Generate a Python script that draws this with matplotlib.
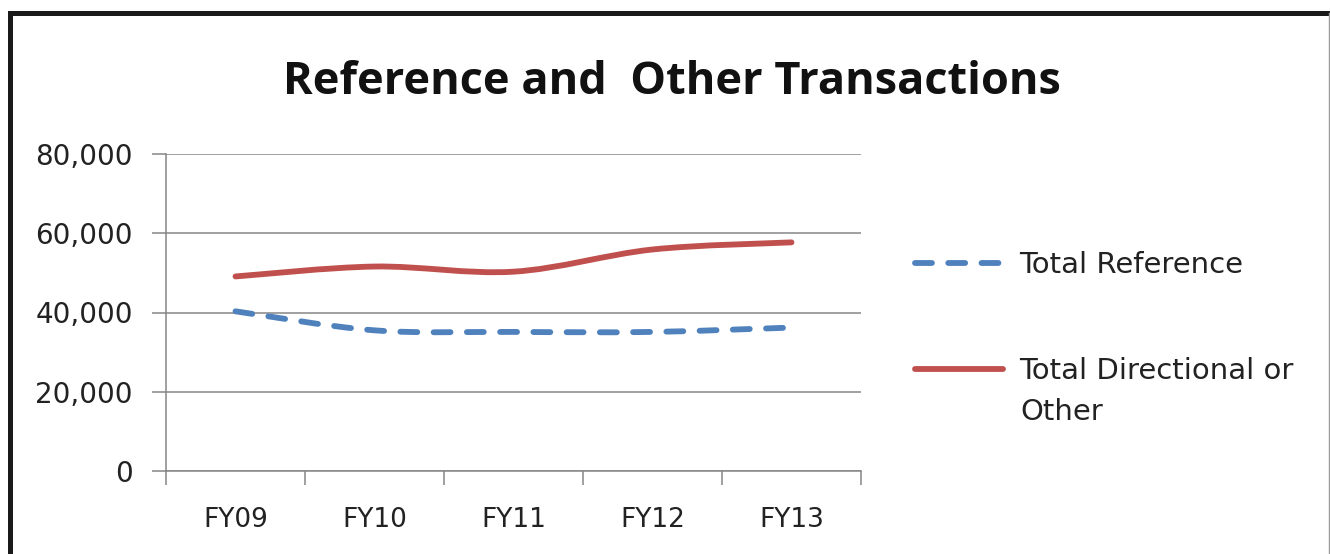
import numpy as np
import matplotlib
matplotlib.use("Agg")
import matplotlib.pyplot as plt
from matplotlib.path import Path
from matplotlib.patches import PathPatch
from matplotlib.lines import Line2D

# === Data ===
years = ["FY09", "FY10", "FY11", "FY12", "FY13"]
total_reference = [40300, 35500, 35100, 35100, 36200]
total_directional = [49100, 51600, 50300, 55900, 57700]
y_ticks = [0, 20000, 40000, 60000, 80000]

blue = "#4F81BD"
red = "#C0504D"
grid_gray = "#868686"
text_col = "#222222"


def smooth_path(xs, ys):
    """Excel-style smoothed line as cubic Bezier segments through the data points."""
    pts = np.column_stack([xs, ys]).astype(float)
    n = len(pts)
    verts = [pts[0]]
    codes = [Path.MOVETO]
    for i in range(n - 1):
        p0 = pts[max(i - 1, 0)]
        p1 = pts[i]
        p2 = pts[i + 1]
        p3 = pts[min(i + 2, n - 1)]
        c1 = p1 + (p2 - p0) / 6.0
        c2 = p2 - (p3 - p1) / 6.0
        verts += [c1, c2, p2]
        codes += [Path.CURVE4] * 3
    return Path(verts, codes)


W, H = 1330, 554
fig = plt.figure(figsize=(W / 100, H / 100), dpi=100)
ax = fig.add_axes([166 / W, 1 - 471 / H, (861 - 166) / W, (471 - 154) / H])

x = np.arange(len(years))
lw = 4.2
dash = (0, (2.9, 2.8))
ref_patch = PathPatch(smooth_path(x, total_reference), fill=False, edgecolor=blue,
                      lw=lw, linestyle=dash, capstyle="round", zorder=3)
dir_patch = PathPatch(smooth_path(x, total_directional), fill=False, edgecolor=red,
                      lw=lw, capstyle="round", zorder=3)
ax.add_patch(ref_patch)
ax.add_patch(dir_patch)

ax.set_xlim(-0.5, len(years) - 0.5)
ax.set_ylim(0, 80000)

# y axis
ax.set_yticks(y_ticks)
ax.set_yticklabels([f"{v:,}" for v in y_ticks])
ax.grid(axis="y", color=grid_gray, lw=1.1)
ax.set_axisbelow(True)

# x axis: tick marks between categories, labels centred on categories
ax.set_xticks(np.arange(-0.5, len(years), 1.0))
ax.set_xticklabels([])
ax.set_xticks(x, minor=True)
ax.set_xticklabels(years, minor=True)
ax.tick_params(axis="x", which="minor", length=0, pad=26, labelsize=19, labelcolor=text_col)
ax.tick_params(axis="x", which="major", length=10, width=1.1, color=grid_gray)
ax.tick_params(axis="y", length=10, width=1.1, color=grid_gray, pad=14,
               labelsize=20, labelcolor=text_col)

for side in ["top", "right"]:
    ax.spines[side].set_visible(False)
for side in ["left", "bottom"]:
    ax.spines[side].set_color(grid_gray)
    ax.spines[side].set_linewidth(1.1)

# title
fig.text(672 / W, 1 - 94 / H, "Reference and  Other Transactions", ha="center",
         va="baseline", fontsize=32.5, fontweight="bold", family="Open Sans", color="#111111")

# legend
handles = [
    Line2D([], [], color=blue, lw=lw, linestyle=dash, dash_capstyle="round"),
    Line2D([], [], color=red, lw=lw, solid_capstyle="round"),
]
leg = fig.legend(handles, ["Total Reference", "Total Directional or"],
                 loc="upper left", bbox_to_anchor=(915 / W, 1 - 251 / H),
                 frameon=False, fontsize=21, handlelength=3.0, handletextpad=0.58,
                 labelspacing=2.69, borderpad=0, borderaxespad=0, labelcolor=text_col)
fig.text(1020 / W, 1 - 412 / H, "Other", fontsize=21, color=text_col,
         ha="left", va="center")

# outer frame (left and top thick black, right thin grey; bottom cut off)
fig.add_artist(Line2D([9.5 / W, 9.5 / W], [0, 1 - 13 / H], color="#1a1a1a", lw=3.6,
                      transform=fig.transFigure, solid_capstyle="projecting"))
fig.add_artist(Line2D([9.5 / W, 1], [1 - 13 / H, 1 - 13 / H], color="#1a1a1a", lw=3.6,
                      transform=fig.transFigure, solid_capstyle="projecting"))
fig.add_artist(Line2D([1329 / W, 1329 / W], [0, 1 - 13 / H], color="#999999", lw=1.0,
                      transform=fig.transFigure))

fig.savefig("out.png", dpi=100)
